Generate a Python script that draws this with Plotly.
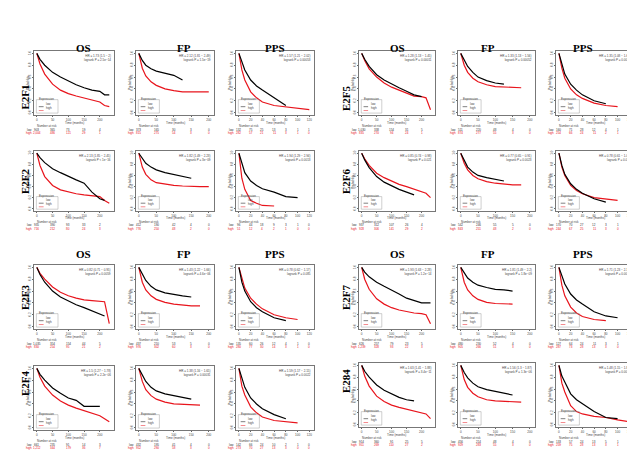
import plotly.graph_objects as go

# ---------------- data ----------------
GENES = ["E2F1", "E2F2", "E2F3", "E2F4", "E2F5", "E2F6", "E2F7", "E284"]
MEASURES = ["OS", "FP", "PPS"]

OS_T = [0, 10, 25, 50, 75, 100, 125, 150, 175, 200, 215, 230]
FP_T = [0, 10, 20, 35, 50, 75, 100, 125, 150, 175, 200]
PPS_T = [0, 5, 10, 20, 30, 40, 60, 80, 100, 120]

OS_TICKS = [0, 50, 100, 150, 200]
FP_TICKS = [0, 50, 100, 150, 200]
PPS_TICKS = [0, 20, 40, 60, 80, 100, 120]

E2F1_OS_LOW = [1.0, 0.9, 0.8, 0.68, 0.6, 0.53, 0.47, 0.42, 0.38, 0.36, 0.30, 0.30]
E2F1_OS_HIGH = [1.0, 0.82, 0.65, 0.48, 0.38, 0.32, 0.28, 0.25, 0.22, 0.18, 0.12, 0.10]
E2F1_FP_LOW = [1.0, 0.88, 0.8, 0.74, 0.7, 0.66, 0.63, 0.55]
E2F1_FP_HIGH = [1.0, 0.75, 0.62, 0.52, 0.46, 0.4, 0.37, 0.35, 0.35, 0.35, 0.35]
E2F1_PPS_LOW = [1.0, 0.85, 0.72, 0.55, 0.45, 0.38, 0.25, 0.12]
E2F1_PPS_HIGH = [1.0, 0.72, 0.55, 0.35, 0.25, 0.18, 0.12, 0.1, 0.08, 0.05]

E2F2_OS_LOW = [1.0, 0.92, 0.83, 0.72, 0.65, 0.58, 0.52, 0.46, 0.3, 0.18, 0.15]
E2F2_OS_HIGH = [1.0, 0.78, 0.58, 0.42, 0.34, 0.3, 0.27, 0.25, 0.23, 0.22, 0.15, 0.1]
E2F2_FP_LOW = [1.0, 0.9, 0.82, 0.75, 0.7, 0.65, 0.62, 0.58, 0.55]
E2F2_FP_HIGH = [1.0, 0.75, 0.62, 0.52, 0.47, 0.44, 0.42, 0.41, 0.4, 0.4, 0.4]
E2F2_PPS_LOW = [1.0, 0.8, 0.65, 0.5, 0.42, 0.36, 0.3, 0.22, 0.2]
E2F2_PPS_HIGH = [1.0, 0.55, 0.35, 0.15, 0.1, 0.06, 0.05]

E2F3_OS_LOW = [1.0, 0.88, 0.75, 0.6, 0.5, 0.43, 0.37, 0.32, 0.27, 0.22, 0.18]
E2F3_OS_HIGH = [1.0, 0.9, 0.8, 0.67, 0.58, 0.52, 0.48, 0.45, 0.44, 0.42, 0.42, 0.05]
E2F3_FP_LOW = [1.0, 0.88, 0.78, 0.68, 0.62, 0.57, 0.54, 0.52, 0.5]
E2F3_FP_HIGH = [1.0, 0.75, 0.62, 0.52, 0.46, 0.41, 0.38, 0.36, 0.35, 0.35]
E2F3_PPS_LOW = [1.0, 0.75, 0.6, 0.42, 0.32, 0.25, 0.15, 0.1]
E2F3_PPS_HIGH = [1.0, 0.8, 0.65, 0.48, 0.38, 0.3, 0.2, 0.15, 0.12]

E2F4_OS_LOW = [1.0, 0.9, 0.8, 0.67, 0.58, 0.5, 0.46, 0.36, 0.36, 0.36]
E2F4_OS_HIGH = [1.0, 0.85, 0.7, 0.55, 0.45, 0.38, 0.33, 0.29, 0.25, 0.2, 0.15, 0.1]
E2F4_FP_LOW = [1.0, 0.88, 0.78, 0.68, 0.62, 0.57, 0.54, 0.5, 0.48]
E2F4_FP_HIGH = [1.0, 0.78, 0.64, 0.54, 0.48, 0.43, 0.4, 0.39, 0.38, 0.38]
E2F4_PPS_LOW = [1.0, 0.82, 0.68, 0.5, 0.4, 0.32, 0.22, 0.15]
E2F4_PPS_HIGH = [1.0, 0.7, 0.55, 0.35, 0.25, 0.18, 0.12, 0.1, 0.08]

E2F5_OS_LOW = [1.0, 0.9, 0.78, 0.64, 0.55, 0.48, 0.42, 0.36, 0.3, 0.27]
E2F5_OS_HIGH = [1.0, 0.88, 0.74, 0.6, 0.5, 0.43, 0.38, 0.33, 0.28, 0.27, 0.25, 0.05]
E2F5_FP_LOW = [1.0, 0.88, 0.78, 0.68, 0.6, 0.54, 0.5, 0.48]
E2F5_FP_HIGH = [1.0, 0.8, 0.68, 0.58, 0.52, 0.47, 0.44, 0.43, 0.42, 0.42]
E2F5_PPS_LOW = [1.0, 0.8, 0.65, 0.48, 0.38, 0.3, 0.2, 0.15]
E2F5_PPS_HIGH = [1.0, 0.75, 0.58, 0.4, 0.3, 0.24, 0.16, 0.12, 0.1]

E2F6_OS_LOW = [1.0, 0.88, 0.74, 0.58, 0.48, 0.41, 0.35, 0.3, 0.25]
E2F6_OS_HIGH = [1.0, 0.9, 0.78, 0.64, 0.56, 0.5, 0.44, 0.4, 0.35, 0.3, 0.28, 0.2]
E2F6_FP_LOW = [1.0, 0.86, 0.75, 0.66, 0.6, 0.56, 0.53, 0.5]
E2F6_FP_HIGH = [1.0, 0.82, 0.7, 0.6, 0.54, 0.49, 0.46, 0.44, 0.43, 0.43]
E2F6_PPS_LOW = [1.0, 0.78, 0.62, 0.45, 0.35, 0.28, 0.18, 0.12]
E2F6_PPS_HIGH = [1.0, 0.75, 0.6, 0.42, 0.33, 0.27, 0.2, 0.17, 0.15]

E2F7_OS_LOW = [1.0, 0.92, 0.84, 0.75, 0.68, 0.62, 0.55, 0.48, 0.44, 0.4, 0.4, 0.4]
E2F7_OS_HIGH = [1.0, 0.8, 0.63, 0.47, 0.38, 0.32, 0.28, 0.25, 0.23, 0.22, 0.2, 0.05]
E2F7_FP_LOW = [1.0, 0.9, 0.82, 0.75, 0.7, 0.66, 0.63, 0.62, 0.6]
E2F7_FP_HIGH = [1.0, 0.75, 0.62, 0.52, 0.46, 0.41, 0.39, 0.38, 0.38]
E2F7_PPS_LOW = [1.0, 0.85, 0.72, 0.55, 0.45, 0.38, 0.25, 0.18, 0.15]
E2F7_PPS_HIGH = [1.0, 0.7, 0.52, 0.33, 0.23, 0.17, 0.12, 0.1]

E284_OS_LOW = [1.0, 0.9, 0.8, 0.67, 0.58, 0.52, 0.46, 0.42, 0.4]
E284_OS_HIGH = [1.0, 0.82, 0.65, 0.48, 0.39, 0.33, 0.29, 0.26, 0.22, 0.2, 0.18, 0.1]
E284_FP_LOW = [1.0, 0.88, 0.79, 0.7, 0.64, 0.59, 0.56, 0.53, 0.5]
E284_FP_HIGH = [1.0, 0.76, 0.63, 0.53, 0.47, 0.42, 0.4, 0.39, 0.38, 0.38]
E284_PPS_LOW = [1.0, 0.82, 0.72, 0.52, 0.42, 0.35, 0.22, 0.12, 0.1]
E284_PPS_HIGH = [1.0, 0.7, 0.55, 0.32, 0.22, 0.18, 0.14, 0.12, 0.08, 0.05]

E2F1_HR = ["HR = 1.73 (1.5 − 2)<br>logrank P = 2.5e−14", "HR = 2.12 (1.81 − 2.49)<br>logrank P = 1.5e−19", "HR = 1.57 (1.21 − 2.02)<br>logrank P = 0.00053"]
E2F2_HR = ["HR = 2.13 (1.85 − 2.45)<br>logrank P < 1e−16", "HR = 1.82 (1.49 − 2.23)<br>logrank P = 3e−09", "HR = 1.94 (1.29 − 2.94)<br>logrank P = 0.0013"]
E2F3_HR = ["HR = 0.82 (0.71 − 0.95)<br>logrank P = 0.0059", "HR = 1.43 (1.22 − 1.66)<br>logrank P = 4.6e−06", "HR = 0.78 (0.62 − 1.17)<br>logrank P = 0.085"]
E2F4_HR = ["HR = 1.5 (1.27 − 1.78)<br>logrank P = 2.2e−06", "HR = 1.38 (1.16 − 1.65)<br>logrank P = 0.00031", "HR = 1.59 (1.17 − 2.15)<br>logrank P = 0.0022"]
E2F5_HR = ["HR = 1.28 (1.13 − 1.45)<br>logrank P = 0.00011", "HR = 1.33 (1.13 − 1.56)<br>logrank P = 0.00052", "HR = 1.35 (1.08 − 1.68)<br>logrank P = 0.0081"]
E2F6_HR = ["HR = 0.85 (0.74 − 0.98)<br>logrank P = 0.021", "HR = 0.77 (0.65 − 0.91)<br>logrank P = 0.0023", "HR = 0.78 (0.61 − 1.01)<br>logrank P = 0.059"]
E2F7_HR = ["HR = 1.93 (1.63 − 2.28)<br>logrank P = 1.2e−14", "HR = 1.81 (1.49 − 2.2)<br>logrank P = 1.8e−09", "HR = 1.71 (1.23 − 2.37)<br>logrank P = 0.0012"]
E284_HR = ["HR = 1.63 (1.41 − 1.88)<br>logrank P = 3.4e−11", "HR = 1.56 (1.3 − 1.87)<br>logrank P = 1.3e−06", "HR = 1.48 (1.15 − 1.89)<br>logrank P = 0.0023"]

E2F1_RISK_LOW = [[903, 365, 73, 19, 4], [373, 165, 30, 3, 0], [132, 75, 25, 13, 3, 1, 1]]
E2F1_RISK_HIGH = [[2004, 486, 121, 29, 1], [815, 275, 54, 3, 0], [282, 57, 21, 11, 3, 1, 0]]
E2F2_RISK_LOW = [[935, 390, 93, 33, 2], [412, 190, 42, 4, 0], [96, 44, 18, 9, 3, 1, 0]]
E2F2_RISK_HIGH = [[716, 212, 80, 24, 3], [776, 250, 48, 2, 0], [51, 12, 4, 2, 1, 0, 0]]
E2F3_RISK_LOW = [[1035, 354, 154, 44, 5], [437, 210, 53, 5, 0], [135, 60, 26, 12, 4, 1, 0]]
E2F3_RISK_HIGH = [[830, 254, 95, 21, 2], [976, 302, 60, 3, 0], [280, 77, 30, 14, 3, 1, 0]]
E2F4_RISK_LOW = [[661, 235, 91, 14, 3], [432, 195, 41, 4, 0], [142, 66, 24, 10, 2, 1, 0]]
E2F4_RISK_HIGH = [[1212, 344, 179, 36, 7], [952, 290, 58, 3, 0], [273, 70, 27, 13, 3, 0, 0]]
E2F5_RISK_LOW = [[1030, 338, 154, 31, 5], [511, 220, 48, 4, 0], [160, 71, 28, 12, 4, 1, 0]]
E2F5_RISK_HIGH = [[835, 270, 94, 24, 1], [874, 277, 55, 3, 0], [254, 66, 24, 11, 2, 1, 0]]
E2F6_RISK_LOW = [[937, 312, 107, 26, 4], [542, 246, 55, 5, 0], [170, 70, 27, 12, 3, 1, 0]]
E2F6_RISK_HIGH = [[928, 306, 141, 29, 2], [843, 251, 48, 2, 0], [244, 67, 25, 11, 3, 0, 0]]
E2F7_RISK_LOW = [[626, 257, 79, 23, 5], [480, 230, 52, 4, 0], [127, 64, 24, 11, 3, 1, 0]]
E2F7_RISK_HIGH = [[1239, 328, 93, 22, 3], [905, 266, 51, 3, 0], [287, 73, 28, 13, 3, 0, 0]]
E284_RISK_LOW = [[914, 360, 91, 25, 5], [456, 214, 48, 4, 0], [133, 57, 24, 13, 5, 1, 0]]
E284_RISK_HIGH = [[951, 269, 110, 27, 2], [929, 283, 55, 3, 0], [259, 75, 28, 13, 3, 1, 0]]

LOW_CURVES = [
    [E2F1_OS_LOW, E2F1_FP_LOW, E2F1_PPS_LOW], [E2F2_OS_LOW, E2F2_FP_LOW, E2F2_PPS_LOW],
    [E2F3_OS_LOW, E2F3_FP_LOW, E2F3_PPS_LOW], [E2F4_OS_LOW, E2F4_FP_LOW, E2F4_PPS_LOW],
    [E2F5_OS_LOW, E2F5_FP_LOW, E2F5_PPS_LOW], [E2F6_OS_LOW, E2F6_FP_LOW, E2F6_PPS_LOW],
    [E2F7_OS_LOW, E2F7_FP_LOW, E2F7_PPS_LOW], [E284_OS_LOW, E284_FP_LOW, E284_PPS_LOW],
]
HIGH_CURVES = [
    [E2F1_OS_HIGH, E2F1_FP_HIGH, E2F1_PPS_HIGH], [E2F2_OS_HIGH, E2F2_FP_HIGH, E2F2_PPS_HIGH],
    [E2F3_OS_HIGH, E2F3_FP_HIGH, E2F3_PPS_HIGH], [E2F4_OS_HIGH, E2F4_FP_HIGH, E2F4_PPS_HIGH],
    [E2F5_OS_HIGH, E2F5_FP_HIGH, E2F5_PPS_HIGH], [E2F6_OS_HIGH, E2F6_FP_HIGH, E2F6_PPS_HIGH],
    [E2F7_OS_HIGH, E2F7_FP_HIGH, E2F7_PPS_HIGH], [E284_OS_HIGH, E284_FP_HIGH, E284_PPS_HIGH],
]
HR_TEXTS = [E2F1_HR, E2F2_HR, E2F3_HR, E2F4_HR, E2F5_HR, E2F6_HR, E2F7_HR, E284_HR]
RISK_LOW = [E2F1_RISK_LOW, E2F2_RISK_LOW, E2F3_RISK_LOW, E2F4_RISK_LOW,
            E2F5_RISK_LOW, E2F6_RISK_LOW, E2F7_RISK_LOW, E284_RISK_LOW]
RISK_HIGH = [E2F1_RISK_HIGH, E2F2_RISK_HIGH, E2F3_RISK_HIGH, E2F4_RISK_HIGH,
             E2F5_RISK_HIGH, E2F6_RISK_HIGH, E2F7_RISK_HIGH, E284_RISK_HIGH]

TIMES = [OS_T, FP_T, PPS_T]
TICKS = [OS_TICKS, FP_TICKS, PPS_TICKS]
XRANGES = [[-9, 245], [-8, 215], [-5, 128]]

# ---------------- layout (pixels) ----------------
W, H = 635, 457
COLS = [[(26, 106), (128, 206), (228, 306)], [(351, 427), (450, 527), (548, 626)]]
ROWS = [[(43, 107), (143, 203), (257, 321), (358, 422)],
        [(43, 107), (143, 203), (257, 321), (355, 419)]]
ROW_LABEL_X = [9, 338]
TITLE_Y = [32, 246]

TINY = dict(family="Liberation Sans", size=3, color="#444")
RED = "#e8141c"

fig = go.Figure()
annotations = []
shapes = []
layout_axes = {}

def fmt(n):
    return f"{n:,}"

def tiny_note(**kw):
    base = dict(showarrow=False, borderpad=0, font=TINY)
    base.update(kw)
    return base

for g, gene in enumerate(GENES):
    block, row = divmod(g, 4)
    ry0, ry1 = ROWS[block][row]
    for m, meas in enumerate(MEASURES):
        i = g * 3 + m + 1
        cx0, cx1 = COLS[block][m]
        suffix = "" if i == 1 else str(i)
        xa, ya = f"x{suffix}", f"y{suffix}"
        xkey, ykey = f"xaxis{suffix}", f"yaxis{suffix}"
        layout_axes[xkey] = dict(
            domain=[cx0 / W, cx1 / W], anchor=ya, range=XRANGES[m], automargin=False,
            tickvals=TICKS[m], ticks="outside", ticklen=1.5, tickwidth=0.5,
            tickcolor="#666", tickfont=TINY, showgrid=False, zeroline=False,
            showline=True, mirror=True, linecolor="#777", linewidth=0.6)
        layout_axes[ykey] = dict(
            domain=[1 - ry1 / H, 1 - ry0 / H], anchor=xa, range=[-0.04, 1.04], automargin=False,
            tickvals=[0, 0.2, 0.4, 0.6, 0.8, 1.0], tickformat=".1f", tickangle=-90,
            ticks="outside", ticklen=1.5, tickwidth=0.5, tickcolor="#666",
            tickfont=TINY, showgrid=False, zeroline=False,
            showline=True, mirror=True, linecolor="#777", linewidth=0.6)

        t = TIMES[m]
        lo = LOW_CURVES[g][m]
        hi = HIGH_CURVES[g][m]
        fig.add_trace(go.Scatter(x=t[:len(hi)], y=hi, mode="lines",
                                 line=dict(color=RED, width=1.2), xaxis=xa, yaxis=ya,
                                 showlegend=False, hoverinfo="skip"))
        fig.add_trace(go.Scatter(x=t[:len(lo)], y=lo, mode="lines",
                                 line=dict(color="black", width=1.2), xaxis=xa, yaxis=ya,
                                 showlegend=False, hoverinfo="skip"))

        xd, yd = f"{xa} domain", f"{ya} domain"
        annotations.append(tiny_note(text=HR_TEXTS[g][m], xref=xd, yref=yd, x=0.97, y=0.97,
                                     xanchor="right", yanchor="top", align="right"))
        annotations.append(tiny_note(text="Probability", xref=xd, yref=yd, x=0, y=0.5,
                                     xshift=-9, textangle=-90))
        shapes.append(dict(type="rect", xref=xd, yref=yd, x0=0.03, x1=0.3, y0=0.03, y1=0.24,
                           line=dict(color="#888", width=0.4)))
        annotations.append(tiny_note(text="Expression", xref=xd, yref=yd, x=0.05, y=0.2,
                                     xanchor="left"))
        for lab, col, yy in [("low", "black", 0.13), ("high", RED, 0.07)]:
            shapes.append(dict(type="line", xref=xd, yref=yd, x0=0.06, x1=0.12, y0=yy, y1=yy,
                               line=dict(color=col, width=0.5)))
            annotations.append(tiny_note(text=lab, xref=xd, yref=yd, x=0.14, y=yy,
                                         xanchor="left"))
        annotations.append(tiny_note(text="Time (months)", xref=xd, yref=yd, x=0.5, y=0,
                                     yshift=-10.5))
        annotations.append(tiny_note(text="Number at risk", xref=xd, yref=yd, x=0.02, y=0,
                                     yshift=-14, xanchor="left"))
        for lab, vals, col, off in [("low", RISK_LOW[g][m], "#333", -17.5),
                                    ("high", RISK_HIGH[g][m], RED, -21)]:
            fnt = dict(family="Liberation Sans", size=3, color=col)
            annotations.append(tiny_note(text=lab, xref=xd, yref=yd, x=0, y=0, yshift=off,
                                         xshift=-1, xanchor="right", font=fnt))
            for tv, v in zip(TICKS[m], vals):
                annotations.append(tiny_note(text=fmt(v), xref=xa, yref=yd, x=tv, y=0,
                                             yshift=off, font=fnt))

    annotations.append(dict(text=f"<b>{gene}</b>", xref="paper", yref="paper",
                            x=ROW_LABEL_X[block] / W, y=1 - ((ry0 + ry1) / 2) / H,
                            textangle=-90, showarrow=False,
                            font=dict(family="Liberation Serif", size=11, color="black")))

for block in range(2):
    for m, meas in enumerate(MEASURES):
        cx0, cx1 = COLS[block][m]
        for ty in TITLE_Y:
            annotations.append(dict(text=f"<b>{meas}</b>", xref="paper", yref="paper",
                                    x=((cx0 + cx1) / 2) / W, y=1 - ty / H,
                                    showarrow=False,
                                    font=dict(family="Liberation Serif", size=11, color="black")))

fig.update_layout(width=W, height=H, margin=dict(l=0, r=0, t=0, b=0, autoexpand=False),
                  paper_bgcolor="white", plot_bgcolor="white",
                  annotations=annotations, shapes=shapes, showlegend=False,
                  **layout_axes)

fig.write_html("out.html")
